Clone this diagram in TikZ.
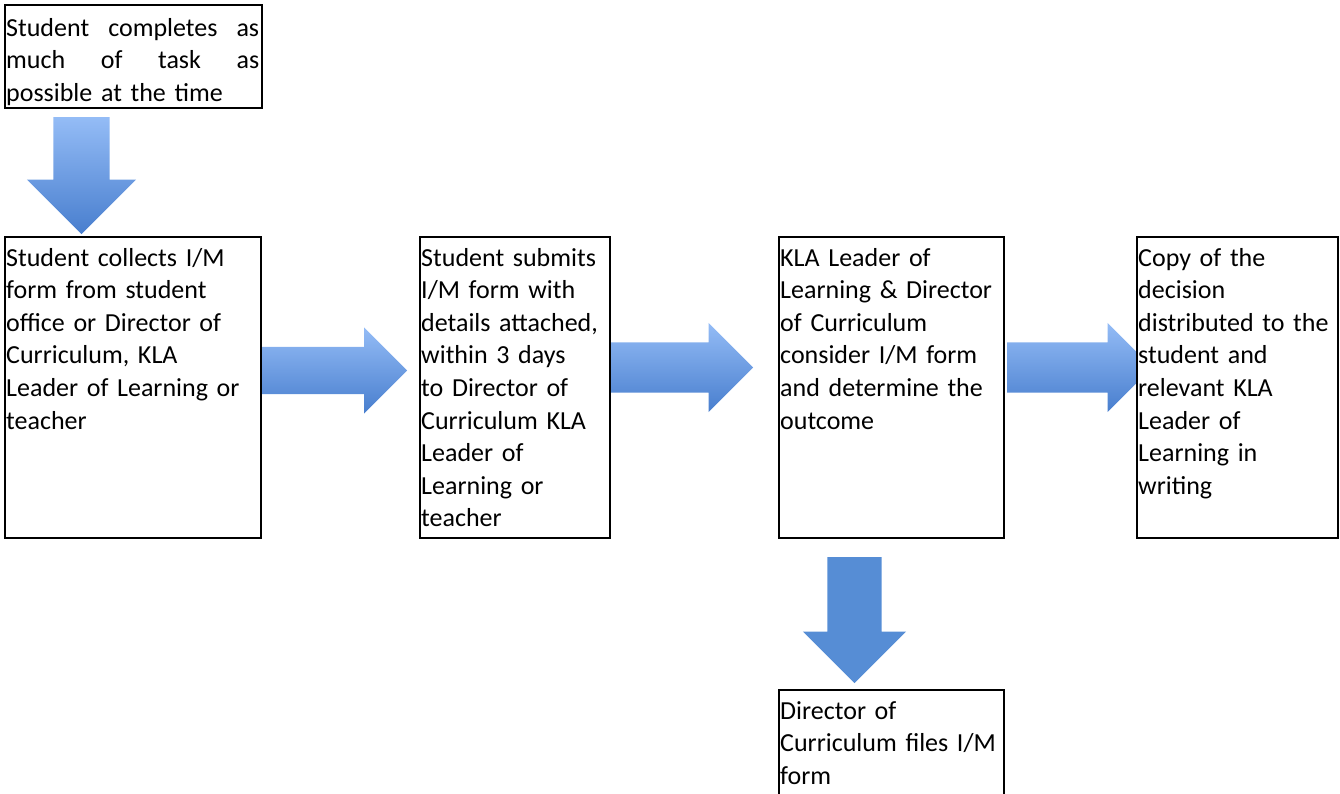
\documentclass[tikz,border=0pt]{standalone}
\usepackage{fontspec}
\setmainfont{Carlito}
\usetikzlibrary{shapes.arrows}
\definecolor{arrowtop}{RGB}{148,188,246}
\definecolor{arrowbot}{RGB}{72,126,206}
\definecolor{arrowflat}{RGB}{86,141,213}
\tikzstyle{stepbox}=[rectangle, draw, line width=2pt, fill=white, inner sep=0pt]
\tikzstyle{steptext}=[anchor=base west, inner sep=0pt, align=left, text width=30em, font=\fontsize{26}{32.6}\selectfont, xshift=2pt, yshift=-30pt]
\tikzstyle{blockarrow}=[single arrow, single arrow tip angle=90, anchor=tail, draw=none]

\begin{document}
\begin{tikzpicture}[x=1pt, y=-1pt]
    \useasboundingbox (0,0) rectangle (1340,793);
    % arrows go under the boxes
    \node[blockarrow, rotate=-90, top color=arrowtop, bottom color=arrowbot, minimum height=117pt, minimum width=109pt, inner sep=28pt, single arrow head extend=26.5pt] (a1) at (81.5,117) {};
    \node[blockarrow, top color=arrowtop, bottom color=arrowbot, minimum height=145pt, minimum width=86pt, inner sep=23.5pt, single arrow head extend=19.5pt] (a2) at (262,370.5) {};
    \node[blockarrow, top color=arrowtop, bottom color=arrowbot, minimum height=143pt, minimum width=89pt, inner sep=25pt, single arrow head extend=19.5pt] (a3) at (610,367.5) {};
    \node[blockarrow, top color=arrowtop, bottom color=arrowbot, minimum height=145pt, minimum width=89pt, inner sep=25pt, single arrow head extend=19.5pt] (a4) at (1007,367.5) {};
    \node[blockarrow, rotate=-90, fill=arrowflat, minimum height=126pt, minimum width=103pt, inner sep=27pt, single arrow head extend=24.5pt] (a5) at (854.5,557) {};
    % boxes
    \node[stepbox, minimum width=257pt, minimum height=103pt] (s1) at (133.5,56.5) {};
    \node[stepbox, minimum width=256pt, minimum height=301pt] (s2) at (133,387.5) {};
    \node[stepbox, minimum width=190pt, minimum height=301pt] (s3) at (515,387.5) {};
    \node[stepbox, minimum width=225pt, minimum height=301pt] (s4) at (891.5,387.5) {};
    \node[stepbox, minimum width=201pt, minimum height=301pt] (s5) at (1237.5,387.5) {};
    \node[stepbox, minimum width=225pt, minimum height=120pt] (s6) at (891.5,750) {};
    % texts
    \node[steptext, text width=253pt, yshift=-2pt] (t1) at (s1.north west)
        {Student\hfill completes\hfill as\\ much\hfill of\hfill task\hfill as\\ possible at the time};
    \node[steptext] (t2) at (s2.north west)
        {Student collects I/M\\ form from student\\ office or Director of\\ Curriculum, KLA\\ Leader of Learning or\\ teacher};
    \node[steptext] (t3) at (s3.north west)
        {Student submits\\ I/M form with\\ details attached,\\ within 3 days\\ to Director of\\ Curriculum KLA\\ Leader of\\ Learning or\\ teacher};
    \node[steptext] (t4) at (s4.north west)
        {KLA Leader of\\ Learning \& Director\\ of Curriculum\\ consider I/M form\\ and determine the\\ outcome};
    \node[steptext] (t5) at (s5.north west)
        {Copy of the\\ decision\\ distributed to the\\ student and\\ relevant KLA\\ Leader of\\ Learning in\\ writing};
    \node[steptext] (t6) at (s6.north west)
        {Director of\\ Curriculum files I/M\\ form};
\end{tikzpicture}
\end{document}
